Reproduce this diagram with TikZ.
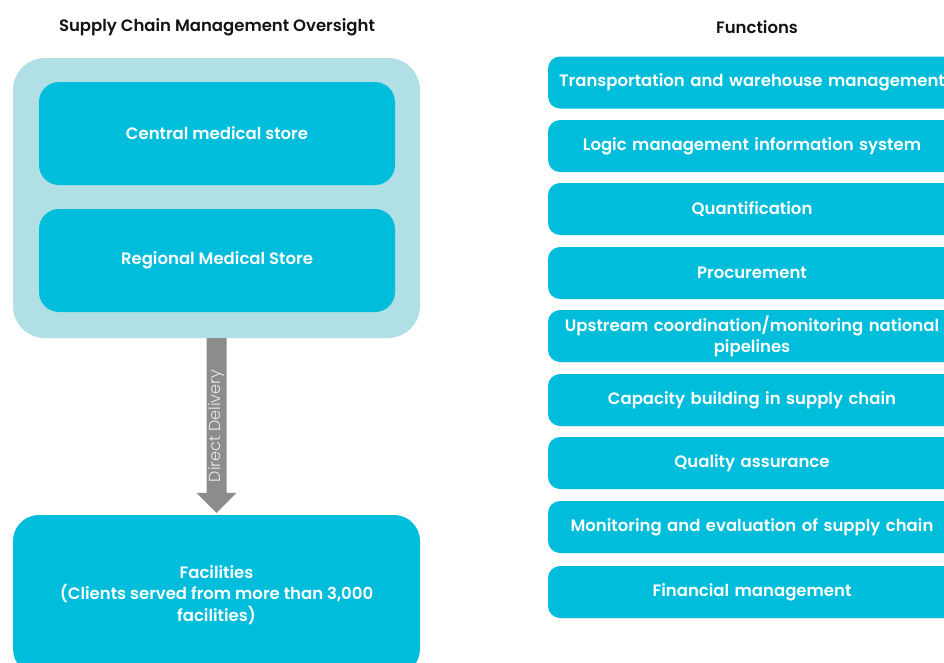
\documentclass[tikz,border=0pt]{standalone}
\usepackage{fontspec}
\setmainfont{Poppins}[BoldFont={* SemiBold}]
\newfontfamily\lightfont{Poppins Light}
\usetikzlibrary{calc}
\definecolor{cyanbox}{RGB}{0,189,220}
\definecolor{lightbox}{RGB}{176,224,230}
\definecolor{arrowgray}{RGB}{140,140,140}
\definecolor{titlecol}{RGB}{20,20,20}
\tikzset{
  x=1pt,y=-1pt,
  sectitle/.style={font=\fontsize{16.5}{18}\selectfont\bfseries, text=titlecol},
  inbox/.style={fill=cyanbox, rounded corners=20, minimum width=356, minimum height=103, text=white, font=\fontsize{16.5}{18}\selectfont\bfseries, align=center, inner sep=0},
  fbox/.style={fill=cyanbox, rounded corners=12, minimum width=408, minimum height=52, text=white, font=\fontsize{16.5}{18}\selectfont\bfseries, align=center, inner sep=0, text width=404},
}
\begin{document}
\begin{tikzpicture}
\useasboundingbox (0,0) rectangle (944,662);
\fill[white] (0,0) rectangle (944,662);
% left column
\node[sectitle] (t1) at (217,27) {Supply Chain Management Oversight};
\node[fill=lightbox, rounded corners=32, minimum width=407, minimum height=280, inner sep=0] (outer) at (216.5,198) {};
\node[inbox] (cms) at (217,133.5) {Central medical store};
\node[inbox] (rms) at (217,260.5) {Regional Medical Store};
\node[fill=cyanbox, rounded corners=26, minimum width=407, minimum height=160, inner sep=0, text=white, font=\fontsize{16.5}{21.5}\selectfont\bfseries, align=center] (fac) at (216.5,595) {Facilities\\(Clients served from more than 3,000\\facilities)};
% fat arrow from outer box to facilities
\coordinate (as) at (outer.south -| fac.north);
\fill[arrowgray] ($(as)+(-10,0)$) -- ($(as)+(10,0)$) -- ($(fac.north)+(10,-22)$) -- ($(fac.north)+(20,-22)$) -- ($(fac.north)+(0,-2)$) -- ($(fac.north)+(-20,-22)$) -- ($(fac.north)+(-10,-22)$) -- cycle;
\node[rotate=90, text=white!92!black, font=\fontsize{16}{16}\lightfont, inner sep=0] (dd) at (217,426) {Direct Delivery};
% right column
\node[sectitle] (t2) at (757,27) {Functions};
\node[fbox] (f1) at (752,82.5) {Transportation and warehouse management};
\node[fbox] (f2) at (752,146) {Logic management information system};
\node[fbox] (f3) at (752,209) {Quantification};
\node[fbox] (f4) at (752,273) {Procurement};
\node[fbox, font=\fontsize{16.5}{21}\selectfont\bfseries] (f5) at (752,336) {Upstream coordination/monitoring national\\pipelines};
\node[fbox] (f6) at (752,400) {Capacity building in supply chain};
\node[fbox] (f7) at (752,463) {Quality assurance};
\node[fbox] (f8) at (752,527) {Monitoring and evaluation of supply chain};
\node[fbox] (f9) at (752,592) {Financial management};
\end{tikzpicture}
\end{document}
